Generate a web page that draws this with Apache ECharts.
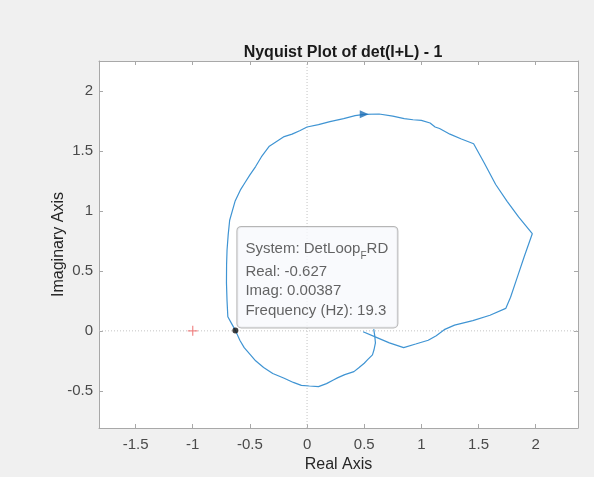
<!DOCTYPE html>
<html>
<head>
<meta charset="utf-8">
<script src="https://cdn.jsdelivr.net/npm/echarts@6/dist/echarts.min.js"></script>
<style>
  html, body { margin: 0; padding: 0; background: #f0f0f0; }
  #chart { width: 594px; height: 477px; }
</style>
</head>
<body>
<div id="chart"></div>
<script>
// ---- data ----
const xLimits = [-1.82, 2.37];
const yLimits = [-0.81, 2.25];
const xTicks = [-1.5, -1, -0.5, 0, 0.5, 1, 1.5, 2];
const yTicks = [-0.5, 0, 0.5, 1, 1.5, 2];

const curveReal = [0.583, 0.592, 0.598, 0.585, 0.572, 0.53, 0.50, 0.45, 0.41, 0.33, 0.27, 0.23, 0.17, 0.10, 0.02,
  -0.05, -0.12, -0.2, -0.3, -0.38, -0.45, -0.495, -0.55, -0.588, -0.627, -0.66, -0.693, -0.70, -0.705, -0.704,
  -0.70, -0.69, -0.677, -0.63, -0.58, -0.545, -0.50, -0.45, -0.40, -0.33, -0.25, -0.20, -0.131, -0.06, 0.0,
  0.1, 0.2, 0.32, 0.42, 0.5, 0.63, 0.75, 0.85, 0.927, 1.0, 1.076, 1.12, 1.159, 1.25, 1.35,
  1.457, 1.55, 1.65, 1.75, 1.85, 1.97, 1.90, 1.84, 1.78, 1.738, 1.6, 1.45, 1.29, 1.2, 1.13,
  1.06, 0.95, 0.845, 0.72, 0.596, 0.49];
const curveImag = [0.015, -0.04, -0.10, -0.16, -0.20, -0.24, -0.27, -0.31, -0.34, -0.365, -0.39, -0.41, -0.44, -0.465, -0.46,
  -0.455, -0.43, -0.395, -0.355, -0.305, -0.25, -0.20, -0.14, -0.078, 0.004, 0.06, 0.117, 0.25, 0.40, 0.55,
  0.672, 0.80, 0.922, 1.08, 1.18, 1.233, 1.30, 1.37, 1.45, 1.54, 1.59, 1.62, 1.64, 1.67, 1.70,
  1.72, 1.745, 1.77, 1.795, 1.805, 1.808, 1.79, 1.77, 1.76, 1.755, 1.733, 1.70, 1.687, 1.64, 1.60,
  1.56, 1.40, 1.22, 1.08, 0.95, 0.81, 0.62, 0.45, 0.28, 0.187, 0.13, 0.085, 0.048, 0.01, -0.04,
  -0.078, -0.11, -0.14, -0.10, -0.05, -0.008];

const criticalPoint = [-1, 0];
const arrowPoint = [0.5, 1.806];
const dataTipPoint = [-0.627, 0.00387];
const dataTipSystem = 'DetLoop';
const dataTipSub = 'F';
const dataTipSystemTail = 'RD';
const dataTipReal = '-0.627';
const dataTipImag = '0.00387';
const dataTipFreq = '19.3';

const titleText = 'Nyquist Plot of det(I+L) - 1';
const xName = 'Real Axis';
const yName = 'Imaginary Axis';

// ---- build chart ----
const FONT = "'Liberation Sans', Arial, Helvetica, sans-serif";
const axisColor = '#a8a8a8';
const labelColor = '#4a4a4a';
const curveData = curveReal.map((x, i) => [x, curveImag[i]]);

const chart = echarts.init(document.getElementById('chart'), null, { renderer: 'canvas' });

const commonX = {
  type: 'value', min: xLimits[0], max: xLimits[1],
  axisLine: { show: true, onZero: false, lineStyle: { color: axisColor, width: 1 } },
  axisTick: { show: true, inside: true, length: 4, customValues: xTicks, lineStyle: { color: axisColor } },
  splitLine: { show: false }
};
const commonY = {
  type: 'value', min: yLimits[0], max: yLimits[1],
  axisLine: { show: true, onZero: false, lineStyle: { color: axisColor, width: 1 } },
  axisTick: { show: true, inside: true, length: 4, customValues: yTicks, lineStyle: { color: axisColor } },
  splitLine: { show: false }
};

const option = {
  backgroundColor: '#f0f0f0',
  animation: false,
  title: {
    text: titleText, left: 338, top: 40, textAlign: 'center',
    textStyle: { fontFamily: FONT, fontSize: 16, fontWeight: 'bold', color: '#1a1a1a' }
  },
  grid: {
    left: 99, right: 16, top: 61, bottom: 49, show: true, backgroundColor: '#ffffff', borderWidth: 0,
    containLabel: false, outerBoundsMode: 'none'
  },
  xAxis: [
    Object.assign({}, commonX, {
      position: 'bottom',
      name: xName, nameLocation: 'middle', nameGap: 28.5, nameMoveOverlap: false,
      nameTextStyle: { fontFamily: FONT, fontSize: 16, color: '#262626' },
      axisLabel: { show: true, customValues: xTicks, margin: 9, fontFamily: FONT, fontSize: 15, color: labelColor }
    }),
    Object.assign({}, commonX, { position: 'top', axisLabel: { show: false } })
  ],
  yAxis: [
    Object.assign({}, commonY, {
      position: 'left',
      name: yName, nameLocation: 'middle', nameGap: 32, nameMoveOverlap: false,
      nameTextStyle: { fontFamily: FONT, fontSize: 16, color: '#262626' },
      axisLabel: { show: true, customValues: yTicks, margin: 6, fontFamily: FONT, fontSize: 15, color: labelColor }
    }),
    Object.assign({}, commonY, { position: 'right', axisLabel: { show: false } })
  ],
  series: [
    {
      type: 'line', silent: true, symbol: 'none', z: 1,
      data: [[xLimits[0], 0], [xLimits[1], 0]],
      lineStyle: { color: '#c4c4c4', width: 1, type: [1, 2] }
    },
    {
      type: 'line', silent: true, symbol: 'none', z: 1,
      data: [[0, yLimits[0]], [0, yLimits[1]]],
      lineStyle: { color: '#c4c4c4', width: 1, type: [1, 2] }
    },
    {
      type: 'line', silent: true, symbol: 'none', z: 2, smooth: false,
      data: curveData,
      lineStyle: { color: '#3f94d3', width: 1.2 }
    },
    {
      type: 'scatter', silent: true, z: 3,
      data: [criticalPoint],
      symbol: 'path://M4.4,0h1.2v4.4h4.4v1.2h-4.4v4.4h-1.2v-4.4h-4.4v-1.2h4.4z',
      symbolSize: 10,
      itemStyle: { color: '#ef6b6b' }
    },
    {
      type: 'scatter', silent: true, z: 3,
      data: [arrowPoint],
      symbol: 'path://M0,0L10,4.5L0,9z',
      symbolSize: [9, 8],
      itemStyle: { color: '#1f6fb5' }
    },
    {
      type: 'scatter', silent: true, z: 10,
      data: [dataTipPoint],
      symbol: 'circle', symbolSize: 6,
      itemStyle: { color: '#111111' },
      label: {
        show: true,
        position: [5, 0],
        align: 'left',
        verticalAlign: 'bottom',
        backgroundColor: '#f8f9fc',
        borderColor: '#a4a4a4',
        borderWidth: 1,
        borderRadius: 4,
        padding: [9, 6, 7, 8],
        width: 146,
        overflow: 'none',
        fontFamily: FONT, fontSize: 15, color: '#3c3c3c',
        formatter: '{a|System: ' + dataTipSystem + '}{s|' + dataTipSub + '}{a|' + dataTipSystemTail + '}\n' +
          '{b|Real: ' + dataTipReal + '}\n' +
          '{b|Imag: ' + dataTipImag + '}\n' +
          '{b|Frequency (Hz): ' + dataTipFreq + '}',
        rich: {
          a: { fontFamily: FONT, fontSize: 15, color: '#3c3c3c', lineHeight: 26 },
          s: { fontFamily: FONT, fontSize: 10, color: '#3c3c3c', lineHeight: 26, verticalAlign: 'bottom', padding: [0, 0, 1, 0] },
          b: { fontFamily: FONT, fontSize: 15, color: '#3c3c3c', lineHeight: 19.5 }
        }
      }
    }
  ]
};
chart.setOption(option);
</script>
</body>
</html>
